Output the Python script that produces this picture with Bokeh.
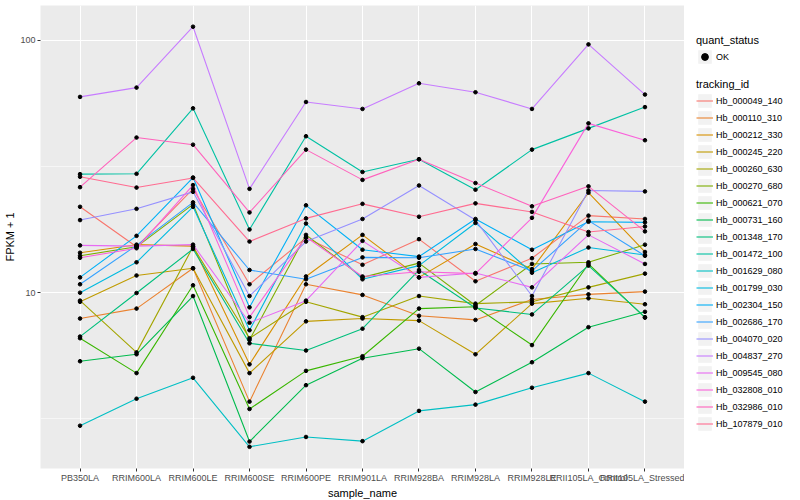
from bokeh.plotting import figure
from bokeh.layouts import row
from bokeh.models import FactorRange, Range1d, FixedTicker, Legend, LegendItem, BasicTickFormatter
from bokeh.embed import file_html
from bokeh.resources import INLINE

samples = ["PB350LA", "RRIM600LA", "RRIM600LE", "RRIM600SE", "RRIM600PE", "RRIM901LA",
           "RRIM928BA", "RRIM928LA", "RRIM928LE", "RRII105LA_Control", "RRII105LA_Stressed"]

tracking_ids = ["Hb_000049_140", "Hb_000110_310", "Hb_000212_330", "Hb_000245_220",
                "Hb_000260_630", "Hb_000270_680", "Hb_000621_070", "Hb_000731_160",
                "Hb_001348_170", "Hb_001472_100", "Hb_001629_080", "Hb_001799_030",
                "Hb_002304_150", "Hb_002686_170", "Hb_004070_020", "Hb_004837_270",
                "Hb_009545_080", "Hb_032808_010", "Hb_032986_010", "Hb_107879_010"]

# FPKM + 1 per sample (order of `samples`)
hb_000049_140 = [21.9, 15.2, 25.8, 10.8, 16.5, 12.9, 16.3, 11.1, 13.7, 20.2, 19.6]
hb_000110_310 = [7.9, 8.65, 12.5, 3.7, 10.8, 9.8, 8.1, 7.8, 9.4, 9.85, 10.1]
hb_000212_330 = [14.4, 15.5, 15.3, 5.2, 11.6, 16.95, 11.5, 15.6, 12.4, 24.9, 14.5]
hb_000245_220 = [9.2, 11.7, 12.5, 4.8, 7.7, 7.9, 7.75, 5.7, 9.05, 9.5, 9.0]
hb_000260_630 = [9.3, 5.8, 15.2, 6.6, 9.2, 8.0, 9.7, 9.05, 9.2, 10.5, 11.9]
hb_000270_680 = [14.0, 15.2, 22.4, 6.5, 16.95, 11.5, 13.1, 8.9, 13.0, 13.2, 15.5]
hb_000621_070 = [6.6, 4.8, 10.7, 3.46, 4.9, 5.6, 8.65, 8.8, 6.2, 13.0, 7.96]
hb_000731_160 = [5.35, 5.7, 9.7, 2.57, 4.3, 5.5, 6.0, 4.04, 5.3, 7.3, 8.4]
hb_001348_170 = [6.7, 9.97, 14.9, 6.3, 5.9, 7.2, 12.3, 8.7, 8.2, 12.8, 8.0]
hb_001472_100 = [29.5, 29.6, 53.8, 17.8, 41.7, 30.1, 33.8, 25.6, 36.9, 44.8, 54.4]
hb_001629_080 = [2.97, 3.8, 4.6, 2.45, 2.68, 2.58, 3.4, 3.6, 4.2, 4.8, 3.7]
hb_001799_030 = [10.0, 13.2, 21.9, 7.1, 18.8, 11.3, 12.8, 18.9, 12.0, 15.1, 14.1]
hb_002304_150 = [11.5, 16.8, 28.6, 8.75, 22.2, 14.8, 13.9, 19.6, 14.8, 19.1, 19.0]
hb_002686_170 = [10.8, 15.4, 22.8, 12.3, 11.3, 13.8, 13.75, 14.9, 12.2, 19.3, 14.0]
hb_004070_020 = [19.4, 21.5, 25.1, 9.7, 15.95, 19.6, 26.6, 19.4, 9.7, 25.4, 25.2]
hb_004837_270 = [59.7, 65.0, 113.3, 25.8, 57.0, 53.5, 67.6, 62.3, 53.5, 96.4, 61.0]
hb_009545_080 = [15.4, 15.3, 15.5, 7.6, 9.3, 16.05, 11.5, 11.97, 10.5, 16.95, 13.0]
hb_032808_010 = [13.75, 15.0, 26.7, 8.0, 16.6, 11.6, 12.1, 11.9, 19.8, 46.9, 40.2]
hb_032986_010 = [26.2, 41.2, 38.6, 20.8, 36.9, 28.0, 33.8, 27.2, 22.0, 26.4, 17.5]
hb_107879_010 = [28.8, 26.1, 28.5, 15.95, 19.7, 22.5, 20.0, 22.6, 20.9, 17.4, 18.3]

series_values = [hb_000049_140, hb_000110_310, hb_000212_330, hb_000245_220, hb_000260_630,
                 hb_000270_680, hb_000621_070, hb_000731_160, hb_001348_170, hb_001472_100,
                 hb_001629_080, hb_001799_030, hb_002304_150, hb_002686_170, hb_004070_020,
                 hb_004837_270, hb_009545_080, hb_032808_010, hb_032986_010, hb_107879_010]

colors = ["#F8766D", "#EA8331", "#D89000", "#C09B00", "#A3A500", "#7CAE00", "#39B600",
          "#00BB4E", "#00BF7D", "#00C1A3", "#00BFC4", "#00BAE0", "#00B0F6", "#35A2FF",
          "#9590FF", "#C77CFF", "#E76BF3", "#FA62DB", "#FF62BC", "#FF6C91"]

quant_status = ["OK"]
y_ticks = [10, 100]
y_minor = [3.1623, 31.623]

FONT = "Liberation Sans"

p = figure(x_range=FactorRange(factors=samples, range_padding=0.2, range_padding_units="absolute"),
           y_range=Range1d(2.01, 137.5), y_axis_type="log",
           frame_width=644, frame_height=463,
           min_border_left=40, min_border_right=0, min_border_top=5, min_border_bottom=32,
           output_backend="svg", toolbar_location=None)

p.background_fill_color = "#EBEBEB"
p.border_fill_color = "white"
p.outline_line_color = None

p.xgrid.grid_line_color = "white"
p.xgrid.grid_line_width = 1.1
p.ygrid.grid_line_color = "white"
p.ygrid.grid_line_width = 1.1
p.ygrid.minor_grid_line_color = "white"
p.ygrid.minor_grid_line_width = 0.55

p.yaxis.ticker = FixedTicker(ticks=y_ticks, minor_ticks=y_minor)
p.yaxis.formatter = BasicTickFormatter(use_scientific=False)

for ax in (p.xaxis[0], p.yaxis[0]):
    ax.axis_line_color = None
    ax.major_tick_line_color = "#333333"
    ax.major_tick_out = 3
    ax.major_tick_in = 0
    ax.minor_tick_line_color = None
    ax.major_label_text_color = "#4D4D4D"
    ax.major_label_text_font_size = "9px"
    ax.major_label_text_font = FONT
    ax.major_label_standoff = 1
    ax.axis_label_text_font = FONT
    ax.axis_label_text_font_size = "11px"
    ax.axis_label_text_font_style = "normal"
    ax.axis_label_text_color = "black"
    ax.axis_label_standoff = 1

p.xaxis.axis_label = "sample_name"
p.yaxis.axis_label = "FPKM + 1"

for vals, col in zip(series_values, colors):
    p.line(samples, vals, line_color=col, line_width=1.1)

for vals in series_values:
    p.scatter(samples, vals, size=3.6, color="black")

# ---- legend panel (separate figure so the legends are not clipped) ----
lf = figure(width=116, height=500, min_border_left=0, min_border_right=0,
            min_border_top=0, min_border_bottom=0, x_axis_location=None, y_axis_location=None,
            output_backend="svg", toolbar_location=None)
lf.outline_line_color = None
lf.grid.visible = False
lf.background_fill_color = "white"
lf.border_fill_color = "white"

nan = float("nan")
# legend-only renderers: a single NaN point, so nothing is drawn in the panel itself
key_bg = lf.quad(left=[nan], right=[nan], top=[nan], bottom=[nan],
                 fill_color="#F2F2F2", line_color=None)
key_pt = lf.scatter(x=[nan], y=[nan], size=4, color="black")
key_lines = [lf.line(x=[nan], y=[nan], line_color=c, line_width=1.1) for c in colors]


def style_legend(leg):
    leg.padding = 0
    leg.margin = 0
    leg.spacing = 0
    leg.border_line_color = None
    leg.background_fill_alpha = 0
    leg.glyph_width = 17
    leg.glyph_height = 17
    leg.label_height = 17
    leg.label_standoff = 3
    leg.label_text_font = FONT
    leg.label_text_font_size = "9px"
    leg.label_text_color = "black"
    leg.title_text_font = FONT
    leg.title_text_font_size = "11px"
    leg.title_text_font_style = "normal"
    leg.title_text_color = "black"
    leg.title_standoff = 2


quant_legend = Legend(items=[LegendItem(label=q, renderers=[key_bg, key_pt]) for q in quant_status],
                      title="quant_status", location=(12, 402))
style_legend(quant_legend)

track_legend = Legend(items=[LegendItem(label=t, renderers=[key_bg, r])
                             for t, r in zip(tracking_ids, key_lines)],
                      title="tracking_id", location=(12, 35))
style_legend(track_legend)

lf.add_layout(quant_legend, "center")
lf.add_layout(track_legend, "center")

layout = row(p, lf, spacing=0)

open("out.html", "w").write(file_html(layout, INLINE))
